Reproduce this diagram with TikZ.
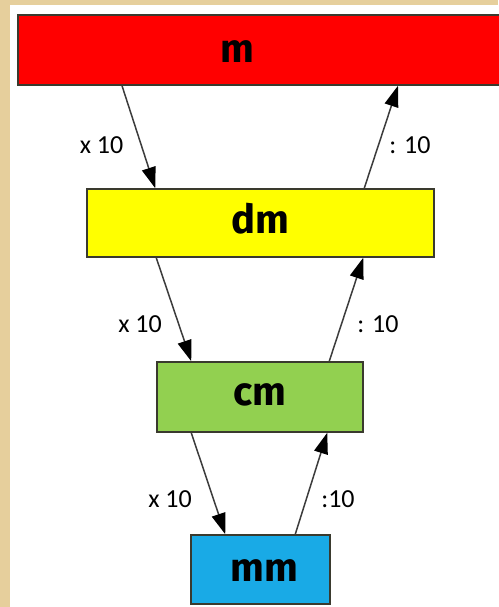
\documentclass[tikz,border=0pt]{standalone}
\usepackage{fontspec}
\setmainfont{Carlito}
\newfontfamily\boxfont{Fira Sans}
\usetikzlibrary{arrows.meta}
\definecolor{parch}{HTML}{E6CF9C}
\definecolor{rbox}{HTML}{FF0000}
\definecolor{ybox}{HTML}{FFFF00}
\definecolor{gbox}{HTML}{92D050}
\definecolor{bbox}{HTML}{19AAE6}
\definecolor{edge}{HTML}{3A3A2E}
\definecolor{arrline}{HTML}{3C3C3C}
\begin{document}
\begin{tikzpicture}[x=1pt,y=1pt,
  unitbox/.style={draw=edge, line width=1.5pt, rectangle, inner sep=0pt},
  unittext/.style={font=\boxfont\bfseries\fontsize{40}{44}\selectfont, text=black, inner sep=0pt},
  conv/.style={draw=arrline, line width=1.5pt, -{Triangle[length=21pt,width=14pt,fill=black,color=black]}},
  lbl/.style={font=\fontsize{26}{30}\selectfont, text=black, inner sep=1pt}]
\useasboundingbox (0,0) rectangle (498,607);
\fill[parch] (0,0) rectangle (498,607);
\fill[white] (10,0) rectangle (498,602);
% boxes
\node[unitbox, fill=rbox, minimum width=503, minimum height=70, anchor=west] (m) at (17,557) {};
\node[unittext] (mt) at (237.5,555) {m};
\node[unitbox, fill=ybox, minimum width=347, minimum height=68] (dm) at (260.5,384) {};
\node[unittext] (dmt) at (260,388) {dm};
\node[unitbox, fill=gbox, minimum width=206, minimum height=70] (cm) at (260,210) {};
\node[unittext] (cmt) at (260,212) {cm};
\node[unitbox, fill=bbox, minimum width=139, minimum height=69] (mm) at (260.5,37.5) {};
\node[unittext] (mmt) at (264,36) {mm};
% arrows
\draw[conv] ([xshift=105pt]m.south west) -- ([xshift=69pt]dm.north west);
\draw[conv] ([xshift=278pt]dm.north west) -- ([xshift=381pt]m.south west);
\draw[conv] ([xshift=70pt]dm.south west) -- ([xshift=35pt]cm.north west);
\draw[conv] ([xshift=173pt]cm.north west) -- ([xshift=277pt]dm.south west);
\draw[conv] ([xshift=35pt]cm.south west) -- ([xshift=35pt]mm.north west);
\draw[conv] ([xshift=105pt]mm.north west) -- ([xshift=171pt]cm.south west);
% labels
\node[lbl] (l1) at (101.5,462) {x 10};
\node[lbl] (l2) at (410,462) {: 10};
\node[lbl] (l3) at (140,283) {x 10};
\node[lbl] (l4) at (378,283) {: 10};
\node[lbl] (l5) at (170,108) {x 10};
\node[lbl] (l6) at (338,108) {:10};
\end{tikzpicture}
\end{document}
